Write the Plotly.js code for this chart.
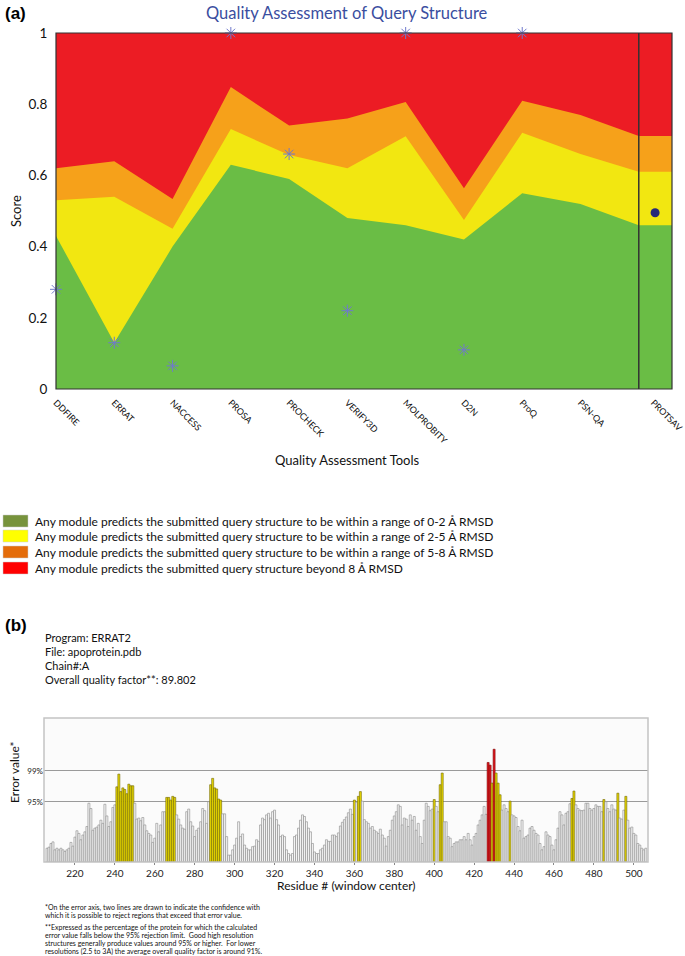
<!DOCTYPE html>
<html>
<head>
<meta charset="utf-8">
<script src="https://cdn.plot.ly/plotly-3.0.1.min.js"></script>
<style>html,body{margin:0;padding:0;background:#fff;}#chart{width:685px;height:956px;}</style>
</head>
<body>
<div id="chart"></div>
<script>
// ---------- Panel (a) data ----------
const tools = ['DDFIRE','ERRAT','NACCESS','PROSA','PROCHECK','VERIFY3D','MOLPROBITY','D2N','ProQ','PSN-QA','PROTSAV'];
const toolPos = [0,1,2,3,4,5,6,7,8,9,10.25];
const bandX = [0,1,2,3,4,5,6,7,8,9,10,10.57];
const greenTop  = [0.43,0.13,0.40,0.63,0.59,0.48,0.46,0.42,0.55,0.52,0.46,0.46];
const yellowTop = [0.53,0.54,0.45,0.73,0.657,0.62,0.71,0.475,0.72,0.66,0.61,0.61];
const orangeTop = [0.62,0.64,0.534,0.848,0.74,0.76,0.806,0.564,0.81,0.77,0.711,0.711];
const redTop    = [1,1,1,1,1,1,1,1,1,1,1,1];
const starPos   = [0,1,2,3,4,5,6,7,8];
const starScore = [0.28,0.13,0.065,1.0,0.66,0.22,1.0,0.11,1.0];
const protsavPos = [10.28];
const protsavScore = [0.495];
const legendLabels = [
  'Any module predicts the submitted query structure to be within a range of 0-2 Å RMSD',
  'Any module predicts the submitted query structure to be within a range of 2-5 Å RMSD',
  'Any module predicts the submitted query structure to be within a range of 5-8 Å RMSD',
  'Any module predicts the submitted query structure beyond 8 Å RMSD'
];

// ---------- Panel (b) data ----------
const resStart = 206;
const errValues = [
 2.6,2.8,3.5,3.8,2.3,2.6,2.3,2.6,2.3,2.0, 2.3,2.6,3.7,3.0,4.7,5.9,5.4,4.2,5.1,5.7,   // 206-225
 6.7,11.1,10.1,6.0,6.4,6.6,7.0,7.9,7.3,10.9, 8.7,6.7,7.6,10.3,10.8,14.2,16.6,13.3,14.0,13.7, // 226-245
 12.9,14.7,14.4,14.4,11.1,8.1,8.3,7.8,8.4,7.0, 5.9,5.4,5.1,3.7,4.5,7.3,5.7,7.0,9.5,9.5,    // 246-265
 12.2,12.2,11.7,12.4,12.2,8.9,8.1,7.0,6.4,6.2, 9.5,10.0,7.6,6.8,4.8,6.0,6.4,7.6,10.1,9.7,  // 266-285
 7.3,11.4,14.6,15.8,14.0,13.8,11.9,11.7,9.1,9.1, 4.8,1.3,1.3,2.3,3.2,4.5,7.6,4.8,5.3,3.2,  // 286-305
 2.6,2.3,2.3,2.9,3.0,4.2,3.9,7.0,8.3,8.0, 8.9,9.2,8.3,9.5,9.8,8.0,7.0,4.8,5.1,4.8,         // 306-325
 2.3,1.6,1.3,1.6,4.8,5.1,6.4,7.9,8.9,8.6, 7.6,6.4,5.7,3.5,1.9,1.6,1.6,2.3,2.6,3.2,         // 326-345
 4.2,3.9,3.9,5.1,5.1,4.8,5.5,6.8,7.5,8.0, 8.5,9.3,10.0,9.0,11.7,11.3,12.4,13.3,11.5,8.0,   // 346-365
 7.6,7.3,6.4,6.7,6.0,5.7,5.4,6.2,5.1,4.5, 3.0,4.8,6.0,7.9,8.7,9.5,10.8,10.5,7.0,8.3,       // 366-385
 8.1,6.7,8.9,7.9,8.6,6.0,7.3,4.8,3.5,7.9, 11.1,10.5,9.7,10.0,11.8,10.5,9.5,14.6,16.8,7.6,  // 386-405
 7.6,4.8,4.5,2.9,3.5,3.8,3.8,4.2,4.2,4.8, 4.2,5.4,4.2,3.2,4.8,5.4,7.0,7.9,8.9,10.5,        // 406-425
 9.0,18.8,18.3,14.9,21.3,16.8,14.9,12.7,9.8,10.8, 10.1,9.5,11.5,8.9,8.7,8.4,6.7,5.9,7.9,4.5, // 426-445
 4.8,5.1,6.4,6.7,6.0,5.4,5.1,3.5,2.3,2.9, 5.7,5.1,4.8,3.2,2.3,4.2,6.4,9.5,8.9,7.0,         // 446-465
 9.2,9.5,11.0,12.0,13.4,10.8,10.1,9.8,9.7,9.8, 11.1,11.1,10.1,9.8,10.1,10.8,10.5,10.5,9.5,11.8, // 466-485
 11.4,10.1,9.5,10.8,10.0,9.8,13.0,8.3,8.1,9.8, 12.4,7.9,6.4,6.6,5.4,5.1,3.5,3.2,2.6,2.3,   // 486-505
 2.6                                                                                     // 506
];
const yellowRes = [241,242,243,244,245,246,247,248,249,266,267,268,269,270,288,289,290,291,292,293,
                   360,362,363,400,403,404,429,431,432,433,438,469,470,485,492,496];
const redRes = [427,428,430];
const limitVals = [11.36, 17.19];
const limitLabels = ['95%','99%'];
const residueTicks = [220,240,260,280,300,320,340,360,380,400,420,440,460,480,500];
const infoLines = ['Program: ERRAT2','File: apoprotein.pdb','Chain#:A','Overall quality factor**: 89.802'];
const footLines1 = ['*On the error axis, two lines are drawn to indicate the confidence with',
                    'which it is possible to reject regions that exceed that error value.'];
const footLines2 = ['**Expressed as the percentage of the protein for which the calculated',
                    'error value falls below the 95% rejection limit.  Good high resolution',
                    'structures generally produce values around 95% or higher.  For lower',
                    'resolutions (2.5 to 3A) the average overall quality factor is around 91%.'];

// ---------- layout helpers ----------
const W = 685, H = 956;
const px = x => x / W;
const py = y => 1 - y / H;
const FONT = 'Lato, "Open Sans", sans-serif';

const bandColors = ['#ec1c24', '#f6a11a', '#f2e711', '#6abd45'];
const bandSeries = [redTop, orangeTop, yellowTop, greenTop];
const traces = [];
bandSeries.forEach((vals, i) => {
  traces.push({
    x: bandX, y: vals, type: 'scatter', mode: 'lines',
    line: {width: 0, color: bandColors[i]}, fill: 'tozeroy', fillcolor: bandColors[i],
    hoverinfo: 'skip', showlegend: false, xaxis: 'x', yaxis: 'y'
  });
});
traces.push({
  x: starPos, y: starScore, type: 'scatter', mode: 'markers',
  marker: {symbol: 'asterisk-open', size: 10, color: '#7079cc', line: {color: '#7079cc', width: 1}},
  cliponaxis: false, showlegend: false, xaxis: 'x', yaxis: 'y'
});
traces.push({
  x: protsavPos, y: protsavScore, type: 'scatter', mode: 'markers',
  marker: {symbol: 'circle', size: 9, color: '#262a78'},
  cliponaxis: false, showlegend: false, xaxis: 'x', yaxis: 'y'
});

// bars
const resX = errValues.map((v, i) => resStart + i);
const barFill = resX.map(r => redRes.includes(r) ? '#e3171e' : (yellowRes.includes(r) ? '#e8d800' : '#f4f4f4'));
const barLine = resX.map(r => redRes.includes(r) ? '#7a0000' : (yellowRes.includes(r) ? '#6e6400' : '#8a8a8a'));
traces.push({
  x: resX, y: errValues, type: 'bar', width: 1,
  marker: {color: barFill, line: {color: barLine, width: 0.6}},
  showlegend: false, xaxis: 'x2', yaxis: 'y2'
});

const annotations = [];
function addText(text, x, y, opts) {
  annotations.push(Object.assign({
    text: text, x: px(x), y: py(y), xref: 'paper', yref: 'paper',
    xanchor: 'left', yanchor: 'middle', showarrow: false,
    font: {family: FONT, size: 12, color: '#111'}
  }, opts || {}));
}
addText('<b>(a)</b>', 3, 14, {font: {family: 'Liberation Sans, Arial, sans-serif', size: 17, color: '#000'}});
addText('Quality Assessment of Query Structure', 347, 13, {xanchor: 'center', font: {family: FONT, size: 16.5, color: '#3a4ea0'}});
addText('Score', 16, 211, {xanchor: 'center', textangle: -90, font: {family: FONT, size: 13, color: '#111'}});
addText('Quality Assessment Tools', 347, 460, {xanchor: 'center', font: {family: FONT, size: 13, color: '#111'}});

const legendY = [521, 536, 552, 568];
const legendSwatch = ['#77933c', '#ffff00', '#e46c0a', '#ff0000'];
const shapes = [];
legendLabels.forEach((t, i) => {
  shapes.push({type: 'rect', xref: 'paper', yref: 'paper', x0: px(3), x1: px(28), y0: py(legendY[i] + 6), y1: py(legendY[i] - 6),
               fillcolor: legendSwatch[i], line: {width: 0.5, color: '#cccccc'}});
  addText(t, 33, legendY[i], {font: {family: FONT, size: 12, color: '#111'}});
});

addText('<b>(b)</b>', 3, 625, {font: {family: 'Liberation Sans, Arial, sans-serif', size: 17, color: '#000'}});
infoLines.forEach((t, i) => addText(t, 43, 637 + i * 14.3, {font: {family: FONT, size: 11, color: '#111'}}));
addText('Error value*', 14, 772, {xanchor: 'center', textangle: -90, font: {family: FONT, size: 12, color: '#111'}});
addText('Residue # (window center)', 346, 885, {xanchor: 'center', font: {family: FONT, size: 12, color: '#111'}});
footLines1.forEach((t, i) => addText(t, 43, 907 + i * 8.2, {font: {family: FONT, size: 7, color: '#111'}}));
footLines2.forEach((t, i) => addText(t, 43, 927 + i * 8.2, {font: {family: FONT, size: 7, color: '#111'}}));

// panel (a) frame and divider
shapes.push({type: 'rect', xref: 'x domain', yref: 'y domain', x0: 0, x1: 1, y0: 0, y1: 1, line: {color: '#333', width: 1.2}});
shapes.push({type: 'line', xref: 'x', yref: 'y domain', x0: 10, x1: 10, y0: 0, y1: 1, line: {color: '#333', width: 1.5}});
// panel (b) frame
shapes.push({type: 'rect', xref: 'x2 domain', yref: 'y2 domain', x0: 0, x1: 1, y0: 0, y1: 1, line: {color: '#c4c4c4', width: 1.5}});

const layout = {
  width: W, height: H, autosize: false,
  margin: {l: 0, r: 0, t: 0, b: 0},
  paper_bgcolor: '#ffffff', plot_bgcolor: '#fbfbfb',
  showlegend: false, bargap: 0,
  xaxis: {
    domain: [px(56), px(672)], range: [0, 10.57], anchor: 'y',
    tickmode: 'array', tickvals: toolPos, ticktext: tools, tickangle: 45,
    tickfont: {family: FONT, size: 9, color: '#111'},
    ticklabeloverflow: 'allow',
    showgrid: false, zeroline: false, showline: false,
    ticks: 'outside', ticklen: 4, tickcolor: 'rgba(0,0,0,0)', fixedrange: true
  },
  yaxis: {
    domain: [py(389), py(33)], range: [0, 1], anchor: 'x',
    tickmode: 'array', tickvals: [0, 0.2, 0.4, 0.6, 0.8, 1], ticktext: ['0', '0.2', '0.4', '0.6', '0.8', '1'],
    tickfont: {family: FONT, size: 13.5, color: '#111'},
    showgrid: false, zeroline: false, showline: false,
    ticks: 'outside', ticklen: 5, tickcolor: 'rgba(0,0,0,0)'
  },
  xaxis2: {
    domain: [px(44), px(648)], range: [204.5, 507.1], anchor: 'y2',
    tickmode: 'array', tickvals: residueTicks, ticktext: residueTicks.map(String),
    tickfont: {family: FONT, size: 10, color: '#222'},
    showgrid: false, zeroline: false, showline: false,
    ticks: 'outside', ticklen: 2, tickcolor: '#888'
  },
  yaxis2: {
    domain: [py(862), py(718)], range: [0, 27.2], anchor: 'x2',
    tickmode: 'array', tickvals: limitVals, ticktext: limitLabels,
    tickfont: {family: FONT, size: 8, color: '#222'},
    showgrid: true, gridcolor: '#9a9a9a', gridwidth: 1,
    zeroline: false, showline: false, ticks: ''
  },
  shapes: shapes,
  annotations: annotations
};

Plotly.newPlot('chart', traces, layout, {staticPlot: true, displayModeBar: false});
</script>
</body>
</html>
